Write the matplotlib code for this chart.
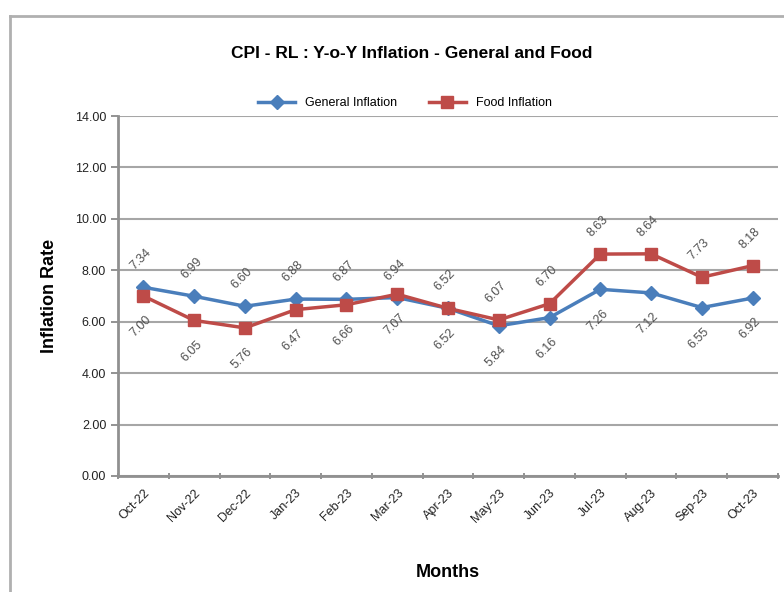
import matplotlib
matplotlib.use("Agg")
import matplotlib.pyplot as plt
from matplotlib.lines import Line2D

plt.rcParams['font.family'] = ['Liberation Sans Narrow', 'Liberation Sans', 'DejaVu Sans']

# data
months = ['Oct-22', 'Nov-22', 'Dec-22', 'Jan-23', 'Feb-23', 'Mar-23', 'Apr-23',
          'May-23', 'Jun-23', 'Jul-23', 'Aug-23', 'Sep-23', 'Oct-23']
general = [7.34, 6.99, 6.60, 6.88, 6.87, 6.94, 6.52, 5.84, 6.16, 7.26, 7.12, 6.55, 6.92]
food = [7.00, 6.05, 5.76, 6.47, 6.66, 7.07, 6.52, 6.07, 6.70, 8.63, 8.64, 7.73, 8.18]

blue = '#4A7EBB'
red = '#BE4B48'
grid_c = '#A6A6A6'

fig = plt.figure(figsize=(7.84, 5.92), dpi=100)
ax = fig.add_axes([118 / 784, 116 / 592, 660 / 784, 360 / 592])

x = list(range(len(months)))
ax.plot(x, general, color=blue, lw=2.5, marker='D', ms=7, label='General Inflation', zorder=3)
ax.plot(x, food, color=red, lw=2.5, marker='s', ms=9, label='Food Inflation', zorder=4)

# data labels (first half: general above, food below; then swapped)
for i in x:
    g_above = i <= 6
    ax.annotate(f'{general[i]:.2f}', (i, general[i]),
                xytext=(-2, 20 if g_above else -22), textcoords='offset points',
                ha='center', va='center', rotation=45, fontsize=9, color='#505050')
    ax.annotate(f'{food[i]:.2f}', (i, food[i]),
                xytext=(-2, -22 if g_above else 20), textcoords='offset points',
                ha='center', va='center', rotation=45, fontsize=9, color='#505050')

ax.set_xlim(-0.5, len(months) - 0.5)
ax.set_ylim(0, 14)
ax.set_yticks(range(0, 15, 2))
ax.set_yticklabels([f'{v:.2f}' for v in range(0, 15, 2)], fontsize=9, color='#222222')
ax.yaxis.grid(True, color=grid_c, lw=1.5)
ax.set_axisbelow(True)

ax.set_xticks(x)
ax.set_xticklabels(months, rotation=45, ha='right', rotation_mode='anchor', fontsize=9, color='#222222')
ax.tick_params(axis='x', which='major', length=0, pad=8)
ax.set_xticks([i - 0.5 for i in range(len(months) + 1)], minor=True)
ax.tick_params(axis='x', which='minor', length=5, width=1.2, color='#808080', direction='inout')
ax.tick_params(axis='y', length=5, width=1.2, color='#808080', direction='out')

for s in ['top', 'right']:
    ax.spines[s].set_visible(False)
for s in ['left', 'bottom']:
    ax.spines[s].set_color('#909090')
    ax.spines[s].set_linewidth(2)

ax.set_xlabel('Months', fontsize=13, fontweight='bold', labelpad=28)
ax.set_ylabel('Inflation Rate', fontsize=13, fontweight='bold', labelpad=12)

fig.text(412 / 784, 1 - 53 / 592, 'CPI - RL : Y-o-Y Inflation - General and Food',
         ha='center', va='center', fontsize=12.5, fontweight='bold')
ax.legend(loc='center', bbox_to_anchor=((405 - 118) / 660, (476 - 103) / 360), ncol=2,
          frameon=False, fontsize=9, handlelength=3, columnspacing=2.5)

# chart border
fig.add_artist(Line2D([10 / 784, 10 / 784], [0, 1 - 16 / 592], color='#B0B0B0', lw=2))
fig.add_artist(Line2D([10 / 784, 1], [1 - 16 / 592, 1 - 16 / 592], color='#B0B0B0', lw=2))

fig.savefig('out.png', dpi=100)
